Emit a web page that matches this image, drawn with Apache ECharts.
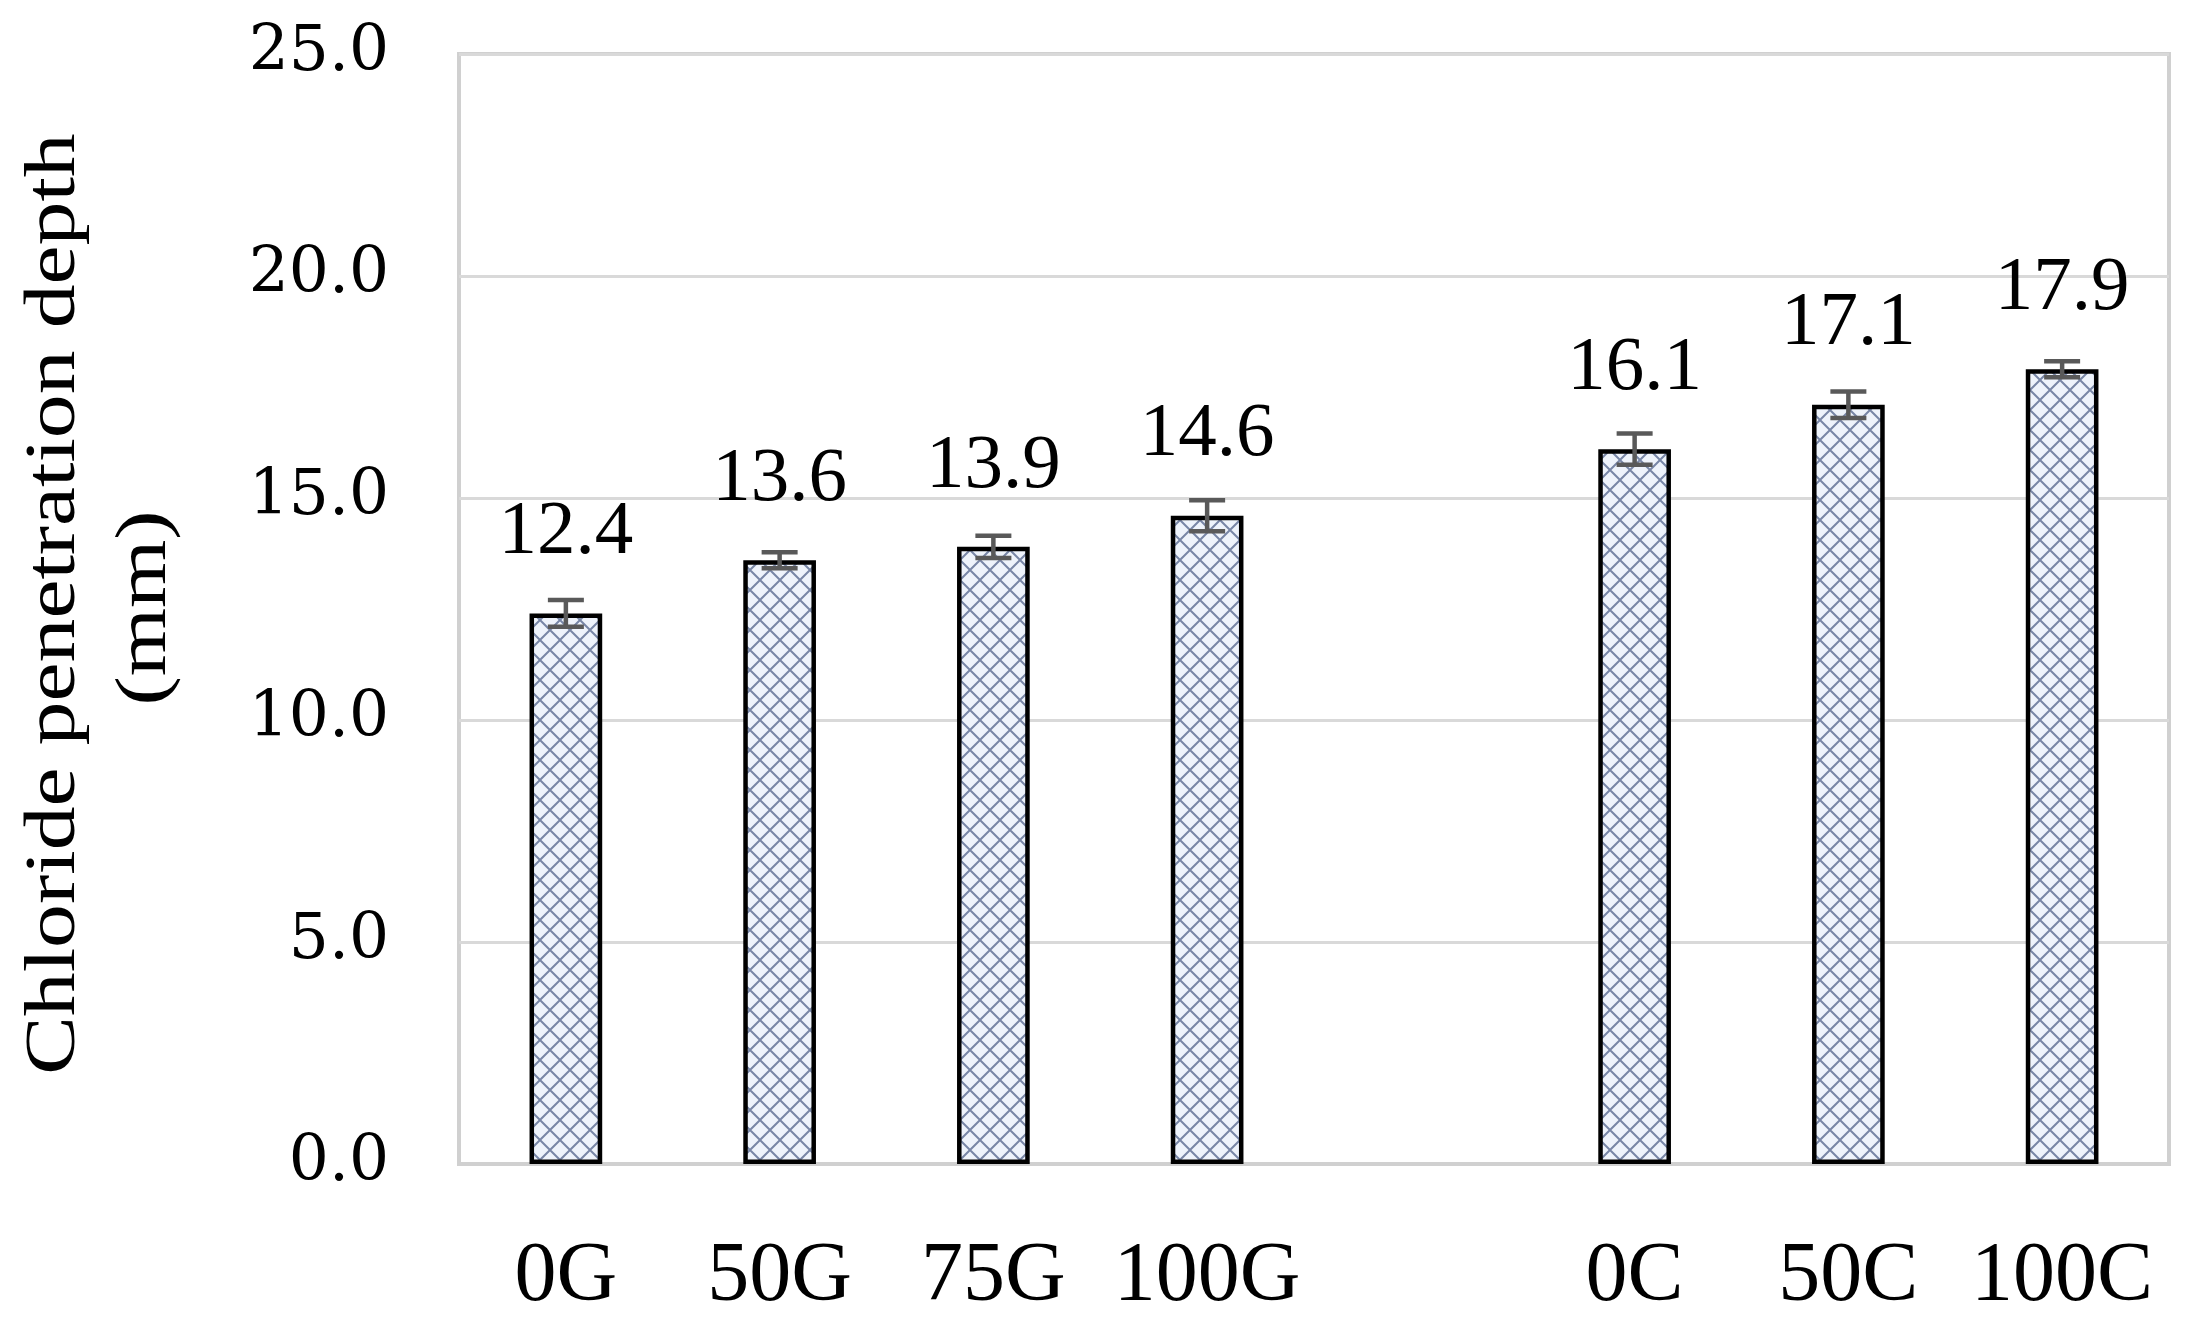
<!DOCTYPE html>
<html>
<head>
<meta charset="utf-8">
<script src="https://cdn.jsdelivr.net/npm/echarts@6/dist/echarts.min.js"></script>
<style>
html,body{margin:0;padding:0;background:#fff;}
#chart{width:2190px;height:1344px;}
</style>
</head>
<body>
<div id="chart"></div>
<script>
// ---- data ----
const categories = ['0G', '50G', '75G', '100G', '', '0C', '50C', '100C'];
const depthValues = [12.4, 13.6, 13.9, 14.6, null, 16.1, 17.1, 17.9];
const errorValues = [0.3, 0.18, 0.25, 0.35, null, 0.35, 0.3, 0.18];
const yTicks = [0, 5, 10, 15, 20, 25];
const yTitleLine1 = 'Chloride penetration depth';
const yTitleLine2 = '(mm)';

// ---- pattern fill (cross-hatch diamonds) ----
function makePattern() {
  const s = 20;
  const c = document.createElement('canvas');
  c.width = s; c.height = s;
  const g = c.getContext('2d');
  g.fillStyle = '#eef3fb';
  g.fillRect(0, 0, s, s);
  g.strokeStyle = '#7886a6';
  g.lineWidth = 2;
  g.beginPath();
  g.moveTo(0, 0); g.lineTo(s, s);
  g.moveTo(s, 0); g.lineTo(0, s);
  g.stroke();
  return c;
}

const FONT = 'Liberation Serif';
const chart = echarts.init(document.getElementById('chart'));

const errData = [];
depthValues.forEach((v, i) => {
  if (v != null && errorValues[i] != null) errData.push([i, v - errorValues[i], v + errorValues[i]]);
});

chart.setOption({
  animation: false,
  backgroundColor: '#ffffff',
  grid: {
    left: 459, right: 21, top: 54, bottom: 180,
    show: true, borderColor: '#d0d0d0', borderWidth: 4, backgroundColor: 'transparent'
  },
  xAxis: {
    type: 'category',
    data: categories,
    axisLine: { show: true, lineStyle: { color: '#d0d0d0', width: 4 } },
    axisTick: { show: false },
    axisLabel: { color: '#000', fontFamily: FONT, fontSize: 84, margin: 72, interval: 0 }
  },
  yAxis: {
    type: 'value',
    min: yTicks[0], max: yTicks[yTicks.length - 1], interval: 5,
    axisLine: { show: false },
    axisTick: { show: false },
    splitLine: { lineStyle: { color: '#d9d9d9', width: 3 } },
    axisLabel: { color: '#000', fontFamily: 'DejaVu Serif', fontSize: 63, margin: 70,
      formatter: v => v.toFixed(1) }
  },
  graphic: [
    {
      type: 'text', x: 55, y: 604, rotation: Math.PI / 2, scaleX: 1.22, scaleY: 1,
      style: { text: yTitleLine1, fontFamily: FONT, fontSize: 72, fill: '#000',
        align: 'center', verticalAlign: 'middle' }
    },
    {
      type: 'text', x: 146, y: 608, rotation: Math.PI / 2, scaleX: 1.22, scaleY: 1,
      style: { text: yTitleLine2, fontFamily: FONT, fontSize: 72, fill: '#000',
        align: 'center', verticalAlign: 'middle' }
    }
  ],
  series: [
    {
      type: 'bar',
      data: depthValues,
      barWidth: '34%',
      itemStyle: {
        color: { image: makePattern(), repeat: 'repeat' },
        borderColor: '#000', borderWidth: 4.5
      },
      label: {
        show: true, position: 'top', distance: 42,
        color: '#000', fontFamily: FONT, fontSize: 77,
        formatter: p => p.value.toFixed(1)
      }
    },
    {
      type: 'custom',
      data: errData,
      z: 10,
      renderItem: function (params, api) {
        const x = api.value(0);
        const lo = api.coord([x, api.value(1)]);
        const hi = api.coord([x, api.value(2)]);
        const hw = 18;
        const st = { stroke: '#595959', lineWidth: 4.5 };
        return {
          type: 'group',
          children: [
            { type: 'line', shape: { x1: lo[0], y1: lo[1], x2: hi[0], y2: hi[1] }, style: st },
            { type: 'line', shape: { x1: hi[0] - hw, y1: hi[1], x2: hi[0] + hw, y2: hi[1] }, style: st },
            { type: 'line', shape: { x1: lo[0] - hw, y1: lo[1], x2: lo[0] + hw, y2: lo[1] }, style: st }
          ]
        };
      }
    }
  ]
});
</script>
</body>
</html>
